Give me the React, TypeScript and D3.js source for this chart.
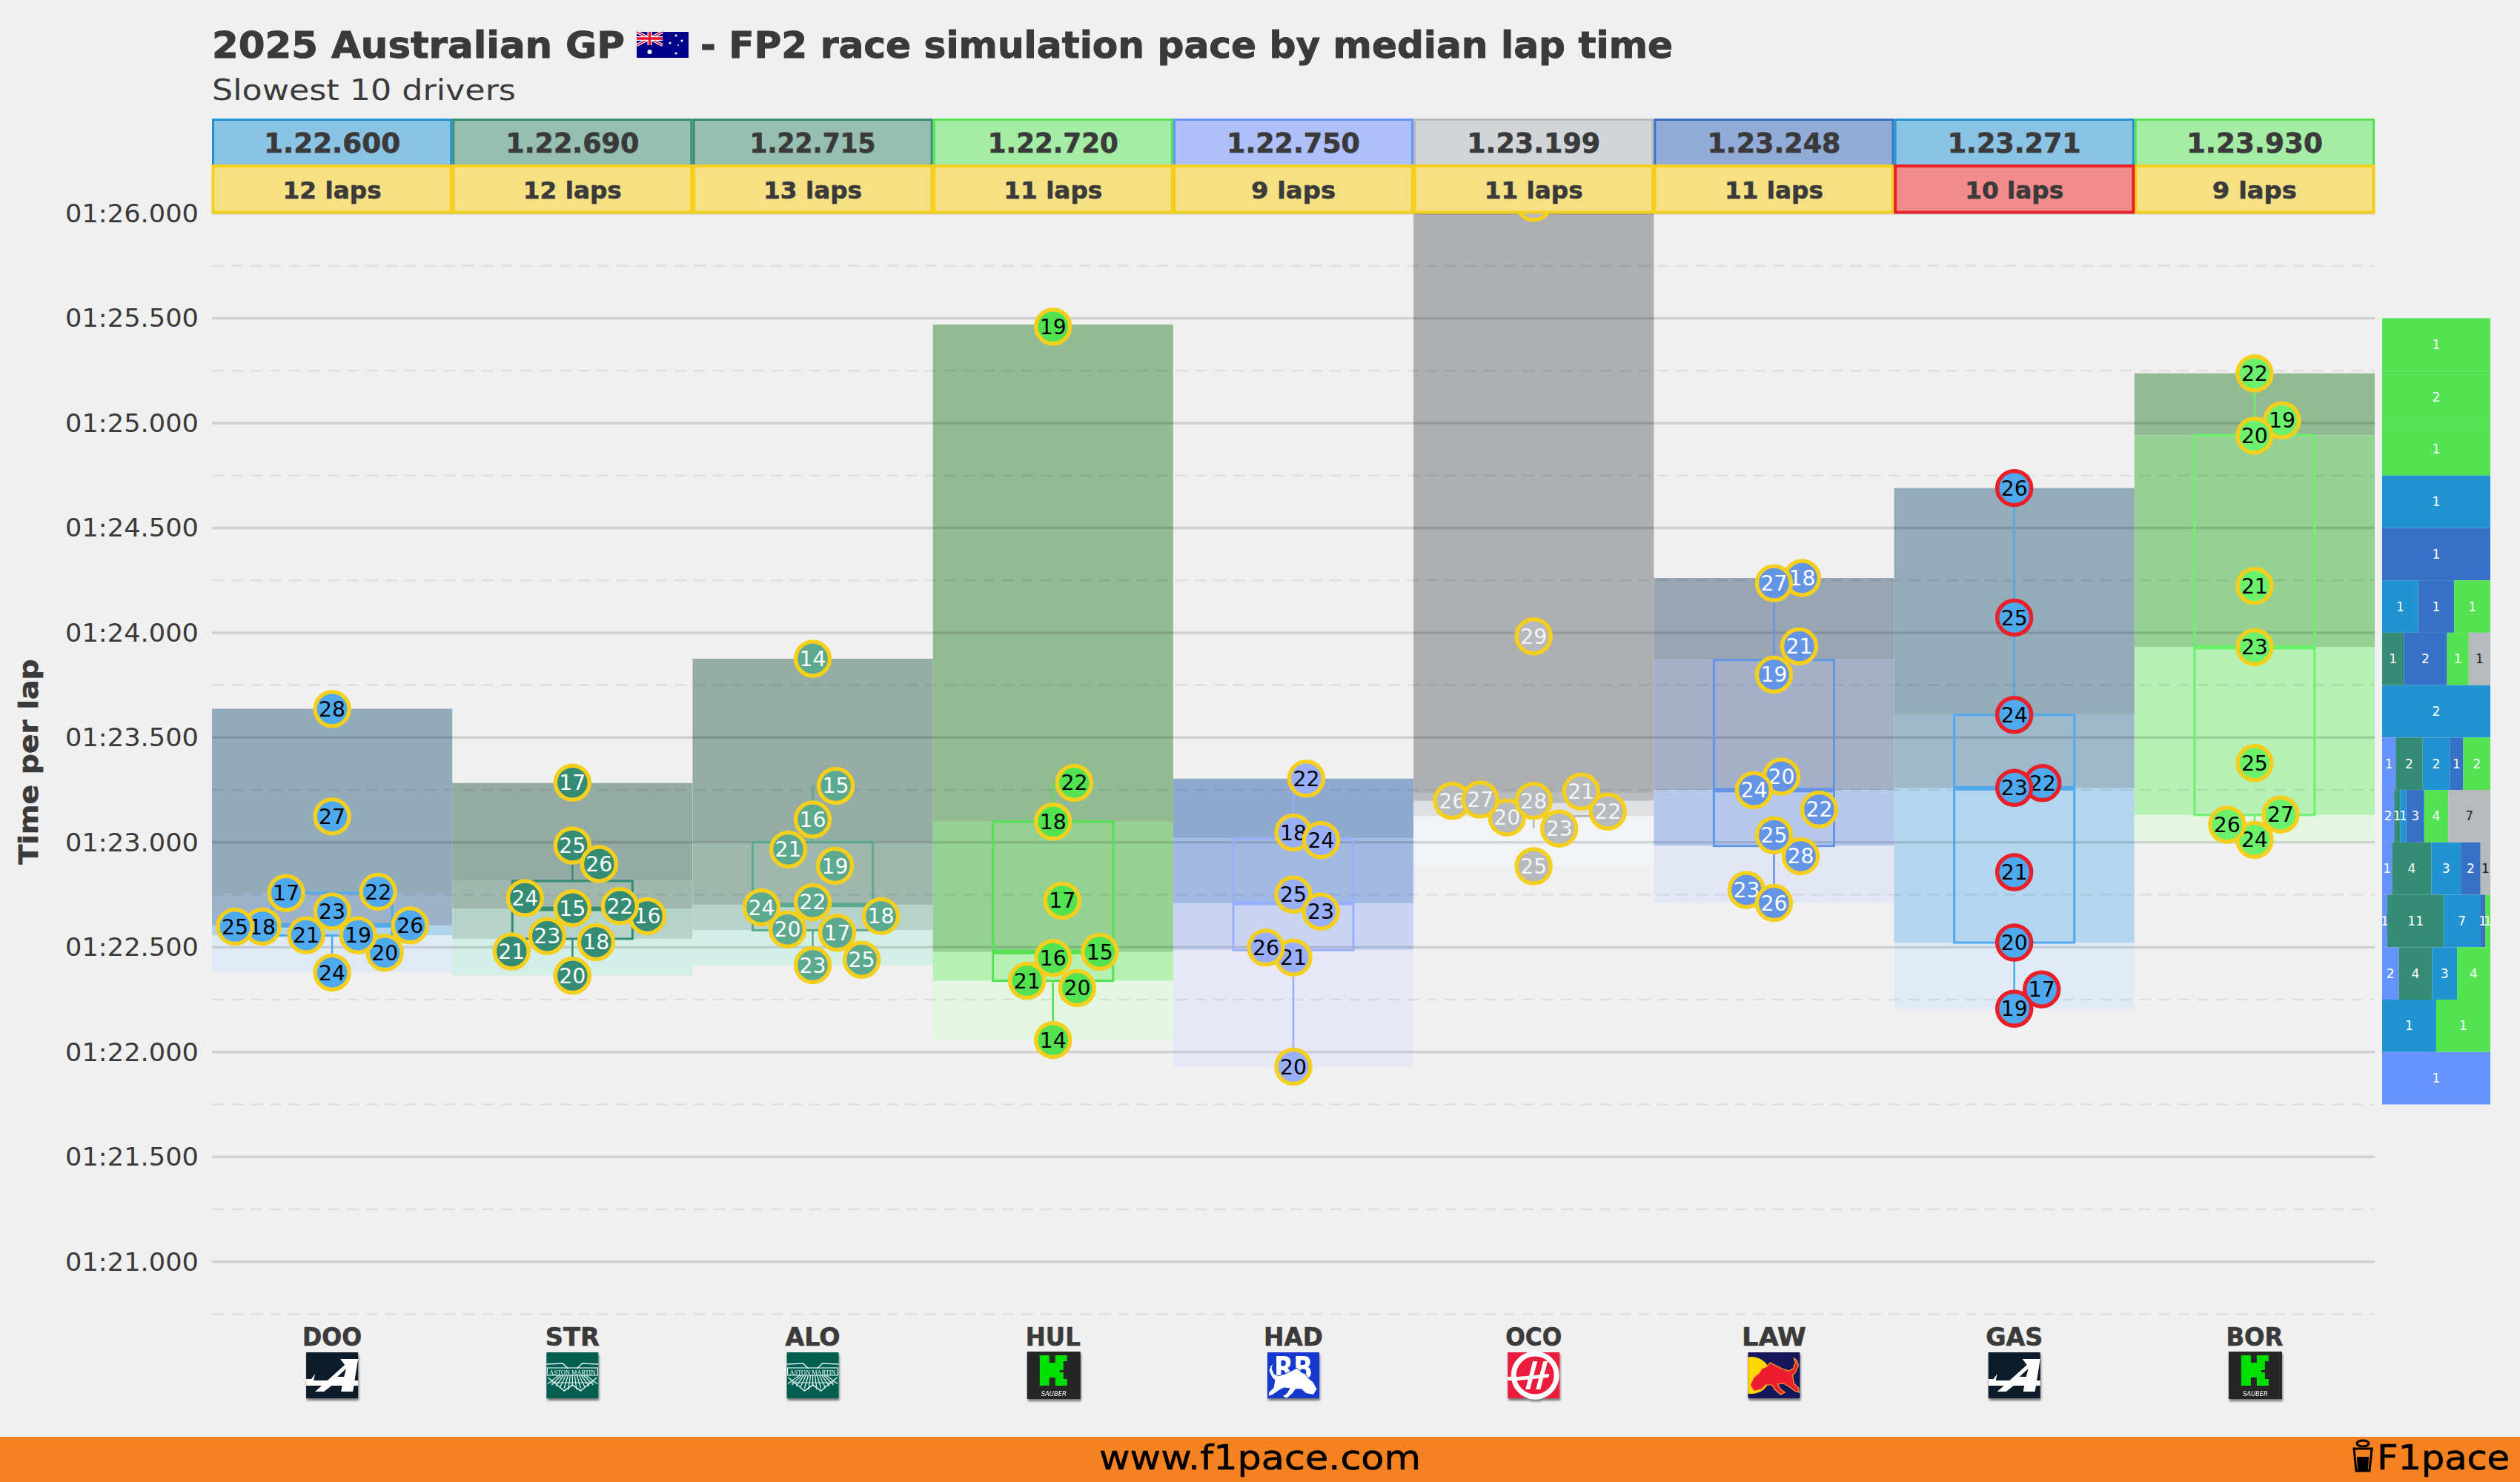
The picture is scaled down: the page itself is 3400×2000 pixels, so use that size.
import React from "react";
import * as d3 from "d3";

const drivers = ["DOO", "STR", "ALO", "HUL", "HAD", "OCO", "LAW", "GAS", "BOR"];
const medianLabels = ["1.22.600", "1.22.690", "1.22.715", "1.22.720", "1.22.750", "1.23.199", "1.23.248", "1.23.271", "1.23.930"];
const lapCounts = ["12 laps", "12 laps", "13 laps", "11 laps", "9 laps", "11 laps", "11 laps", "10 laps", "9 laps"];
const yTicks = [81, 81.5, 82, 82.5, 83, 83.5, 84, 84.5, 85, 85.5, 86];
const yMinor = [80.75, 81.25, 81.75, 82.25, 82.75, 83.25, 83.75, 84.25, 84.75, 85.25, 85.75];

const bandTop = [83.637, 83.283, 83.876, 85.47, 83.304, 86.05, 84.261, 84.69, 85.237];
const q3 = [82.759, 82.816, 83.001, 83.099, 83.019, 83.236, 83.87, 83.608, 84.942];
const medians = [82.604, 82.683, 82.702, 82.477, 82.71, 83.198, 83.249, 83.258, 83.931];
const q1 = [82.556, 82.54, 82.581, 82.34, 82.486, 83.125, 82.983, 82.522, 83.131];
const bandBottom = [82.379, 82.365, 82.414, 82.057, 81.93, 82.888, 82.712, 82.207, 83.003];
const whiskerHigh = [82.764, 82.985, 83.27, 83.284, 83.304, 83.242, 84.261, 84.69, 85.237];
const whiskerLow = [82.379, 82.364, 82.414, 82.057, 81.93, 83.066, 82.711, 82.207, 83.012];

const dooLaps = [28, 27, 17, 22, 24, 20, 26, 18, 25, 21, 19, 23];
const dooTimes = [83.636, 83.124, 82.758, 82.764, 82.379, 82.474, 82.604, 82.598, 82.598, 82.557, 82.557, 82.671];
const dooSwarm = [0, 0, -62, 62, 0, 71, 105, -94, -131, -35, 35, 0];
const strLaps = [17, 25, 26, 16, 22, 24, 18, 23, 21, 15, 20];
const strTimes = [83.285, 82.985, 82.897, 82.648, 82.696, 82.734, 82.524, 82.553, 82.48, 82.686, 82.364];
const strSwarm = [0, 0, 36, 101, 64, -64, 32, -34, -82, 0, 0];
const aloLaps = [14, 15, 16, 21, 19, 25, 24, 18, 20, 17, 22, 23];
const aloTimes = [83.876, 83.27, 83.109, 82.966, 82.888, 82.44, 82.69, 82.648, 82.585, 82.569, 82.715, 82.414];
const aloSwarm = [0, 31, 0, -33, 30, 66, -69, 92, -34, 33, 0, 0];
const hulLaps = [19, 22, 18, 17, 15, 20, 21, 16, 14];
const hulTimes = [85.46, 83.284, 83.099, 82.722, 82.478, 82.305, 82.34, 82.448, 82.057];
const hulSwarm = [0, 28.6, 0, 12.5, 63, 32.6, -35, 0, 0];
const hadLaps = [22, 18, 24, 25, 23, 21, 26, 20];
const hadTimes = [83.304, 83.047, 83.011, 82.751, 82.67, 82.451, 82.498, 81.93];
const hadSwarm = [17.4, 0, 37.5, 0, 37, 0, -37, 0];
// the first OCO point sits behind the header cells, so its lap number cannot be read
const ocoLaps: (number | null)[] = [null, 29, 20, 23, 26, 27, 28, 22, 21, 25];
const ocoTimes = [86.05, 83.983, 83.119, 83.066, 83.198, 83.204, 83.198, 83.147, 83.242, 82.886];
const ocoSwarm = [0, 0, -36, 34.4, -110, -72, 0, 100, 64, 0];
const lawLaps = [18, 27, 21, 19, 20, 24, 22, 28, 25, 23, 26];
const lawTimes = [84.261, 84.236, 83.935, 83.8, 83.314, 83.249, 83.157, 82.934, 83.034, 82.773, 82.711];
const lawSwarm = [38, 0, 34, 0, 10, -27, 61, 36, 0, -37, 0];
const gasLaps = [26, 25, 24, 22, 23, 21, 20, 17, 19];
const gasTimes = [84.69, 84.072, 83.608, 83.283, 83.26, 82.858, 82.522, 82.299, 82.207];
const gasSwarm = [0, 0, 0, 38, 0, 0, 0, 37, 0];
const borLaps = [22, 19, 20, 21, 23, 25, 24, 26, 27];
const borTimes = [85.237, 85.013, 84.94, 84.223, 83.931, 83.378, 83.012, 83.084, 83.133];
const borSwarm = [0, 37, 0, 0, 0, 0, 0, -37, 35];

const lapsByDriver: (number | null)[][] = [dooLaps, strLaps, aloLaps, hulLaps, hadLaps, ocoLaps, lawLaps, gasLaps, borLaps];
const timesByDriver = [dooTimes, strTimes, aloTimes, hulTimes, hadTimes, ocoTimes, lawTimes, gasTimes, borTimes];
const swarmByDriver = [dooSwarm, strSwarm, aloSwarm, hulSwarm, hadSwarm, ocoSwarm, lawSwarm, gasSwarm, borSwarm];

// right-hand histogram, one row per 0.25 s bin: [team, count]
const histTeams = ["rb", "aston", "alpine", "redbull", "sauber", "haas"];
const histBinTops = [85.5, 85.25, 85, 84.75, 84.5, 84.25, 84, 83.75, 83.5, 83.25, 83, 82.75, 82.5, 82.25, 82];
const histRows: [string, number][][] = [
  [["sauber", 1]],
  [["sauber", 2]],
  [["sauber", 1]],
  [["alpine", 1]],
  [["redbull", 1]],
  [["alpine", 1], ["redbull", 1], ["sauber", 1]],
  [["aston", 1], ["redbull", 2], ["sauber", 1], ["haas", 1]],
  [["alpine", 2]],
  [["rb", 1], ["aston", 2], ["alpine", 2], ["redbull", 1], ["sauber", 2]],
  [["rb", 2], ["aston", 1], ["alpine", 1], ["redbull", 3], ["sauber", 4], ["haas", 7]],
  [["rb", 1], ["aston", 4], ["alpine", 3], ["redbull", 2], ["haas", 1]],
  [["rb", 1], ["aston", 11], ["alpine", 7], ["redbull", 1], ["sauber", 1]],
  [["rb", 2], ["aston", 4], ["alpine", 3], ["sauber", 4]],
  [["alpine", 1], ["sauber", 1]],
  [["rb", 1]],
];

const teamColor = d3.scaleOrdinal<string, string>()
  .domain(histTeams)
  .range(["#6692FF", "#358C75", "#2293D1", "#3671C6", "#52E252", "#B6BABD"]);

const pointFill = ["#4FA9EE", "#358C75", "#5BA98F", "#52E252", "#9AAFFB", "#B6BABD", "#6394E6", "#4FA9EE", "#6CF16C"];
const pointText = ["#000", "#fff", "#fff", "#000", "#000", "#f4f4f4", "#fff", "#000", "#000"];
const pointRing = ["#F5CF1E", "#F5CF1E", "#F5CF1E", "#F5CF1E", "#F5CF1E", "#F5CF1E", "#F5CF1E", "#E8202A", "#F5CF1E"];
const headFill = ["#8AC3E3", "#96BEB1", "#96BEB1", "#A5EDA5", "#AEBFFA", "#D1D5D7", "#92ABD9", "#8AC3E3", "#A5EDA5"];
const headStroke = ["#2293D1", "#358C75", "#358C75", "#52E252", "#6692FF", "#B6BABD", "#3671C6", "#2293D1", "#52E252"];
const band1 = ["#92ABBA", "#93ABA3", "#94ACA3", "#93BB92", "#8FA9CE", "#AEAFB0", "#97A5B5", "#92ACBA", "#93BB92"];
const band2 = ["#9BB2C8", "#9FB8AE", "#9FB8AE", "#95D192", "#A2B9E3", "#BBBCBD", "#A3B0C8", "#9EB8CC", "#95D192"];
const band3 = ["#B0D4EC", "#B5D3C9", "#B5D3C9", "#B5F0B5", "#C8D4F2", "#DFE0E1", "#B5C8EB", "#B3D6EE", "#B5F0B5"];
const band4 = ["#E0EAF4", "#D3EEE6", "#D3EEE6", "#E2F6E0", "#E6E9F5", "#F2F3F4", "#E3E7F4", "#E0EAF4", "#E4F6E1"];
const logoKinds = ["alpine", "aston", "aston", "sauber", "rb", "haas", "redbull", "alpine", "sauber"];
const driverLabelWidths = [80, 73, 74, 74, 80, 76, 87, 77, 77];
const medianLabelWidths = [184, 180, 170, 176, 180, 180, 180, 180, 184];

const INK = "#3A3A3A";
const FONT = "'DejaVu Sans', sans-serif";

const y = d3.scaleLinear().domain([81, 86]).range([1702.7, 288]);
const x = d3.scaleBand<string>().domain(drivers).range([286, 3204]);
const swarmX = d3.scaleLinear().domain([-162, 162]).range([0, x.bandwidth()]);

const fmtTick = (v: number) => {
  const m = Math.floor(v / 60);
  const s = v - m * 60;
  return `0${m}:${d3.format("02d")(Math.floor(s))}.${d3.format("03d")(Math.round((s - Math.floor(s)) * 1000))}`;
};

const BULL = "M3,44 L8,34 L15,28 L19,22 L24,20 L30,14 L36,17 L46,22 L55,25 L61,22 L64,14 L62,8 L66,11 L68,18 L64,27 L60,31 L62,42 L68,48 L69,54 L63,52 L55,46 L48,42 L40,43 L44,50 L50,54 L44,57 L36,50 L32,44 L24,44 L18,50 L8,52 Z";

function Logo({ kind, cx }: { kind: string; cx: number }) {
  const tx = cx - 35;
  let body: React.ReactNode = null;
  if (kind === "alpine") {
    body = (
      <>
        <rect width={70} height={62} fill="#0E1B2A" />
        <polygon fill="#fff" points="46,9 70,9 63,53 47,53 49,42 38,42 24,53 12,53 52,17" />
        <polygon fill="#0E1B2A" points="54,22 42,33 51,33" />
        <polygon fill="#fff" points="0,36 7,36 12,29 10,38 70,38 70,45 0,45" />
      </>
    );
  } else if (kind === "aston") {
    const fan = d3.range(-6, 7);
    body = (
      <>
        <rect width={70} height={62} fill="#005F51" />
        <path d="M0,16 L22,15 L29,22 M70,16 L48,15 L41,22" stroke="#DDEFEA" strokeWidth={1.6} fill="none" />
        <rect x={1} y={21} width={68} height={10} fill="none" stroke="#DDEFEA" strokeWidth={1.2} />
        <text x={35} y={29.5} textAnchor="middle" fontFamily="'Liberation Serif', serif" fontSize={9} fill="#fff" textLength={62} lengthAdjust="spacingAndGlyphs">ASTON MARTIN</text>
        {fan.map((k) => (
          <line key={k} x1={35 + k * 3} y1={31} x2={35 + k * 5.6} y2={k === 0 ? 44 : 52 - Math.abs(k) * 1.6} stroke="#DDEFEA" strokeWidth={1.3} />
        ))}
        <path d="M2,34 L24,52 L35,44 L46,52 L68,34" stroke="#DDEFEA" strokeWidth={1.6} fill="none" />
        <path d="M6,41 L64,41" stroke="#DDEFEA" strokeWidth={1} />
      </>
    );
  } else if (kind === "sauber") {
    body = (
      <>
        <rect y={-1} width={72} height={64} fill="#262626" />
        <polygon fill="#00E000" points="17,4 30,4 30,14 38,14 38,4 54,4 54,12 49,12 49,24 44,24 44,27 49,27 49,36 54,36 54,45 38,45 38,34 30,34 30,45 17,45" />
        <text x={36} y={59} textAnchor="middle" fontFamily={FONT} fontStyle="italic" fontSize={8.5} fill="#fff" textLength={34} lengthAdjust="spacingAndGlyphs">SAUBER</text>
      </>
    );
  } else if (kind === "rb") {
    body = (
      <>
        <rect width={70} height={62} fill="#1638CF" />
        <text x={35} y={36} textAnchor="middle" fontFamily={FONT} fontWeight="bold" fontSize={42} fill="#fff" textLength={52} lengthAdjust="spacingAndGlyphs">RB</text>
        <g transform="translate(70,8) scale(-1,0.95)"><path d={BULL} fill="#fff" stroke="#1638CF" strokeWidth={1} /></g>
      </>
    );
  } else if (kind === "haas") {
    body = (
      <>
        <rect width={70} height={62} fill="#EC1C3C" />
        <ellipse cx={37} cy={31} rx={29} ry={29} fill="none" stroke="#fff" strokeWidth={7} />
        <rect x={0} y={33} width={14} height={5} fill="#fff" />
        <polygon fill="#fff" points="34,12 40,12 30,50 24,50" />
        <polygon fill="#fff" points="48,12 54,12 44,50 38,50" />
        <polygon fill="#fff" points="14,33 56,29 55,34 13,38" />
      </>
    );
  } else {
    body = (
      <>
        <rect width={70} height={62} fill="#16185C" />
        <clipPath id="rb-clip"><rect width={70} height={62} /></clipPath>
        <circle cx={5} cy={31} r={25} fill="#FFD800" clipPath="url(#rb-clip)" />
        <path d={BULL} fill="#ED1C2E" stroke="#F5A623" strokeWidth={1.2} />
      </>
    );
  }
  return (
    <g transform={`translate(${tx},1825)`} filter="url(#logoShadow)">
      {body}
    </g>
  );
}

function Flag({ x0, y0 }: { x0: number; y0: number }) {
  return (
    <g transform={`translate(${x0},${y0})`}>
      <rect width={70} height={35} fill="#00008B" />
      <path d="M0,0 L35,18 M35,0 L0,18" stroke="#fff" strokeWidth={4} />
      <path d="M0,0 L35,18 M35,0 L0,18" stroke="#E8112D" strokeWidth={1.5} />
      <path d="M17.5,0 V18 M0,9 H35" stroke="#fff" strokeWidth={6} />
      <path d="M17.5,0 V18 M0,9 H35" stroke="#E8112D" strokeWidth={3.4} />
      <circle cx={17.5} cy={27} r={3} fill="#fff" />
      <circle cx={53} cy={5} r={1.6} fill="#fff" />
      <circle cx={53} cy={29} r={1.6} fill="#fff" />
      <circle cx={45} cy={15} r={1.6} fill="#fff" />
      <circle cx={61} cy={12} r={1.6} fill="#fff" />
      <circle cx={56} cy={18} r={1} fill="#fff" />
    </g>
  );
}

export default function App() {
  const cx = (i: number) => (x(drivers[i]) as number) + x.bandwidth() / 2;
  const left = (i: number) => x(drivers[i]) as number;
  const bw = x.bandwidth();
  const boxW = bw / 2;
  return (
    <svg width={3400} height={2000} viewBox="0 0 3400 2000" style={{ position: "absolute", left: 0, top: 0, background: "#F0F0F0" }} fontFamily={FONT}>
      <defs>
        <filter id="logoShadow" x="-15%" y="-15%" width="130%" height="135%">
          <feDropShadow dx={1} dy={3} stdDeviation={1.5} floodColor="#000" floodOpacity={0.5} />
        </filter>
      </defs>

      {/* bands */}
      {drivers.map((d, i) => (
        <g key={d}>
          <rect x={left(i)} width={bw} y={y(bandTop[i])} height={y(q3[i]) - y(bandTop[i])} fill={band1[i]} />
          <rect x={left(i)} width={bw} y={y(q3[i])} height={y(medians[i]) - y(q3[i])} fill={band2[i]} />
          <rect x={left(i)} width={bw} y={y(medians[i])} height={y(q1[i]) - y(medians[i])} fill={band3[i]} />
          <rect x={left(i)} width={bw} y={y(q1[i])} height={y(bandBottom[i]) - y(q1[i])} fill={band4[i]} />
        </g>
      ))}

      {/* grid */}
      {yTicks.map((t) => (
        <line key={t} x1={286} x2={3204} y1={y(t)} y2={y(t)} stroke="#000" strokeOpacity={0.13} strokeWidth={3.5} />
      ))}
      {yMinor.map((t) => (
        <line key={t} x1={286} x2={3204} y1={y(t)} y2={y(t)} stroke="#000" strokeOpacity={0.07} strokeWidth={2.5} strokeDasharray="16 10" />
      ))}

      {/* boxes */}
      {drivers.map((d, i) => (
        <g key={d} stroke={pointFill[i]} fill="none">
          <line x1={cx(i)} x2={cx(i)} y1={y(whiskerHigh[i])} y2={y(q3[i])} strokeWidth={2.5} />
          <line x1={cx(i)} x2={cx(i)} y1={y(q1[i])} y2={y(whiskerLow[i])} strokeWidth={2.5} />
          <rect x={cx(i) - boxW / 2} width={boxW} y={y(q3[i])} height={y(q1[i]) - y(q3[i])} strokeWidth={3} />
          <line x1={cx(i) - boxW / 2} x2={cx(i) + boxW / 2} y1={y(medians[i])} y2={y(medians[i])} strokeWidth={6} />
        </g>
      ))}

      {/* points */}
      {drivers.map((d, i) => (
        <g key={d}>
          {lapsByDriver[i].map((lap, j) => {
            const px = left(i) + swarmX(swarmByDriver[i][j]);
            const py = y(timesByDriver[i][j]);
            return (
              <g key={j}>
                <circle cx={px} cy={py} r={23} fill={pointFill[i]} stroke={pointRing[i]} strokeWidth={5.5} />
                {lap === null ? null : (
                  <text x={px} y={py + 10} textAnchor="middle" fontSize={28} fill={pointText[i]} textLength={36} lengthAdjust="spacingAndGlyphs">{lap}</text>
                )}
              </g>
            );
          })}
        </g>
      ))}

      {/* header cells */}
      {drivers.map((d, i) => (
        <g key={d}>
          <rect x={left(i) + 1.5} y={161.5} width={bw - 3} height={62} fill={headFill[i]} stroke={headStroke[i]} strokeWidth={3} />
          <text x={cx(i)} y={206} textAnchor="middle" fontSize={38} fontWeight="bold" fill={INK} stroke={INK} strokeWidth={0.7} textLength={medianLabelWidths[i]} lengthAdjust="spacingAndGlyphs">{medianLabels[i]}</text>
        </g>
      ))}
      {drivers.map((d, i) => (i === 7 ? null : (
        <g key={d}>
          <rect x={left(i) + 1.5} y={224} width={bw - 3} height={62.5} fill="#F5E084" stroke="#F5CF1E" strokeWidth={4} />
          <text x={cx(i)} y={268} textAnchor="middle" fontSize={32} fontWeight="bold" fill={INK} stroke={INK} strokeWidth={0.6} textLength={lapCounts[i].length * 19} lengthAdjust="spacingAndGlyphs">{lapCounts[i]}</text>
        </g>
      )))}
      <g>
        <rect x={left(7) + 1.5} y={224} width={bw - 3} height={62.5} fill="#F28B8B" stroke="#E8202A" strokeWidth={4} />
        <text x={cx(7)} y={268} textAnchor="middle" fontSize={32} fontWeight="bold" fill={INK} stroke={INK} strokeWidth={0.6} textLength={lapCounts[7].length * 19} lengthAdjust="spacingAndGlyphs">{lapCounts[7]}</text>
      </g>

      {/* y axis */}
      {yTicks.map((t) => (
        <text key={t} x={268} y={y(t) + 12} textAnchor="end" fontSize={33} fill={INK} textLength={180} lengthAdjust="spacingAndGlyphs">{fmtTick(t)}</text>
      ))}
      <text transform="translate(51,1028) rotate(-90)" textAnchor="middle" fontSize={35} fontWeight="bold" fill={INK} stroke={INK} strokeWidth={0.6} textLength={277} lengthAdjust="spacingAndGlyphs">Time per lap</text>

      {/* x labels + logos */}
      {drivers.map((d, i) => (
        <g key={d}>
          <text x={cx(i)} y={1816} textAnchor="middle" fontSize={33} fontWeight="bold" fill={INK} stroke={INK} strokeWidth={0.6} textLength={driverLabelWidths[i]} lengthAdjust="spacingAndGlyphs">{d}</text>
          <Logo kind={logoKinds[i]} cx={cx(i)} />
        </g>
      ))}

      {/* histogram */}
      {histRows.map((row, r) => {
        const total = d3.sum(row, (c) => c[1]);
        const hx = d3.scaleLinear().domain([0, total]).range([3214, 3360]);
        let acc = 0;
        const top = y(histBinTops[r]);
        const bottom = y(histBinTops[r] - 0.25);
        return (
          <g key={r}>
            {row.map(([team, n], k) => {
              const x0 = hx(acc);
              const x1 = hx(acc + n);
              acc += n;
              return (
                <g key={k}>
                  <rect x={x0} y={top} width={x1 - x0} height={bottom - top} fill={teamColor(team)} />
                  <text x={(x0 + x1) / 2} y={(top + bottom) / 2 + 6} textAnchor="middle" fontSize={17} fill={team === "haas" ? "#222" : "#fff"}>{n}</text>
                </g>
              );
            })}
          </g>
        );
      })}

      {/* titles */}
      <text x={286} y={78} fontSize={50} fontWeight="bold" fill={INK} stroke={INK} strokeWidth={1} textLength={557} lengthAdjust="spacingAndGlyphs">2025 Australian GP</text>
      <Flag x0={859} y0={43} />
      <text x={945} y={78} fontSize={50} fontWeight="bold" fill={INK} stroke={INK} strokeWidth={1} textLength={1312} lengthAdjust="spacingAndGlyphs">- FP2 race simulation pace by median lap time</text>
      <text x={286} y={135} fontSize={39} fill={INK} textLength={410} lengthAdjust="spacingAndGlyphs">Slowest 10 drivers</text>

      {/* footer */}
      <rect x={0} y={1939} width={3400} height={61} fill="#F58220" />
      <text x={1700} y={1983} textAnchor="middle" fontSize={46} fill="#000" stroke="#000" strokeWidth={0.6} textLength={434} lengthAdjust="spacingAndGlyphs">www.f1pace.com</text>
      <text x={3207} y={1983} fontSize={46} fill="#000" stroke="#000" strokeWidth={0.6} textLength={179} lengthAdjust="spacingAndGlyphs">F1pace</text>
      <g fill="none" stroke="#000" strokeWidth={3}>
        <ellipse cx={3188} cy={1948} rx={8} ry={4} />
        <path d="M3176,1955 H3200 L3197,1985 H3179 Z" />
      </g>
      <path d="M3180,1966 H3196 L3195,1985 H3181 Z" fill="#000" />
    </svg>
  );
}
